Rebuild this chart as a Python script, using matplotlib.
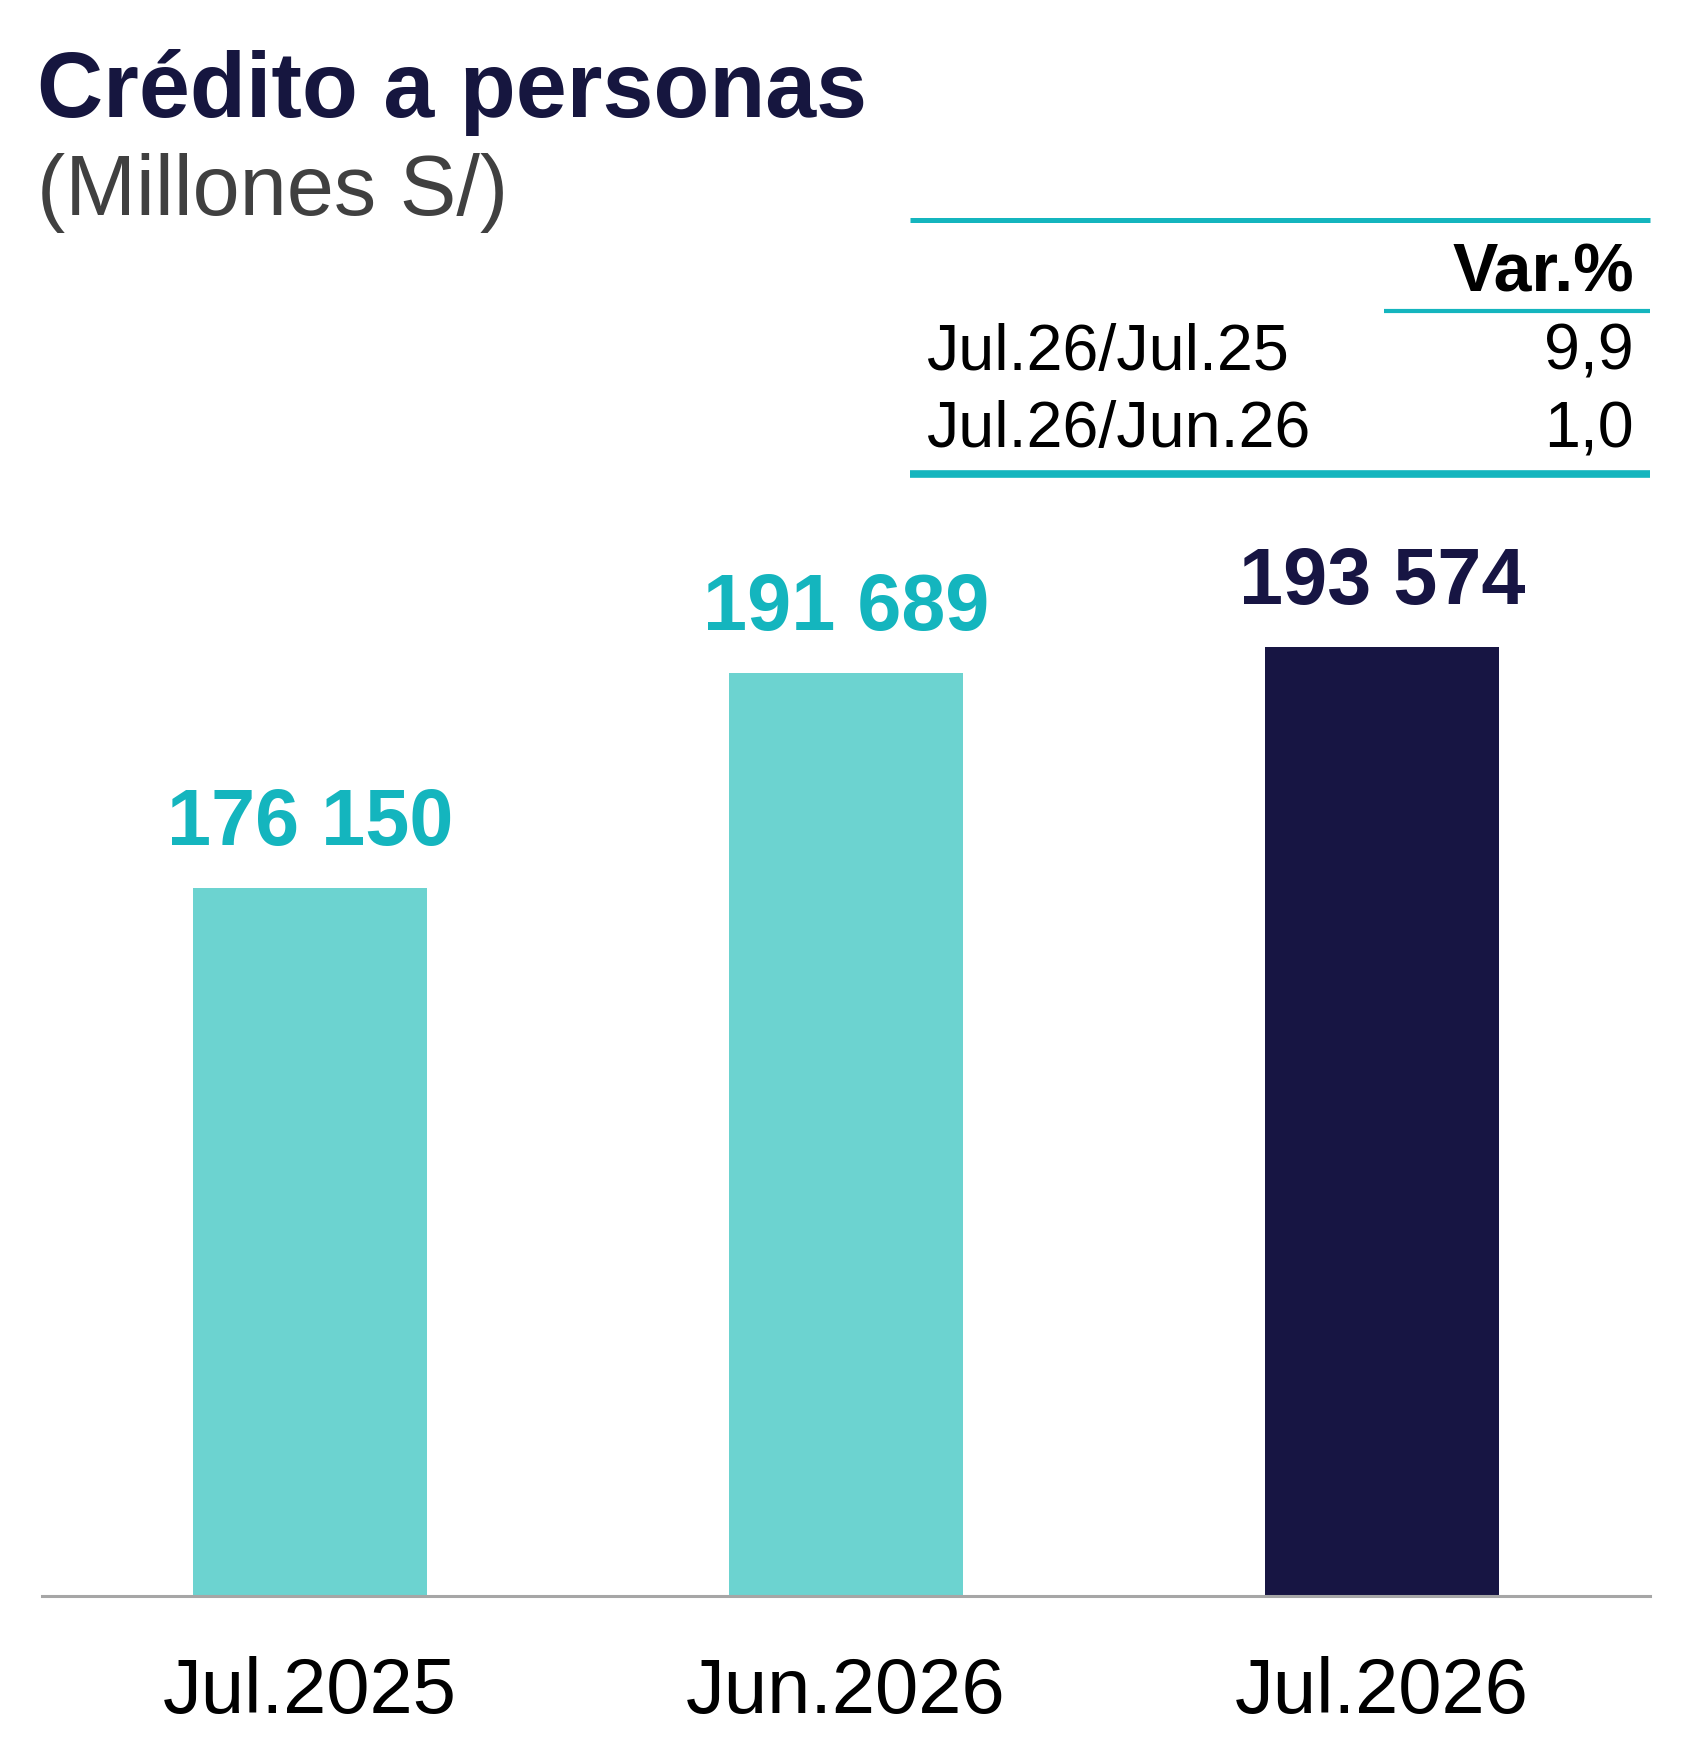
import matplotlib
matplotlib.use("Agg")
import matplotlib.pyplot as plt
from matplotlib.lines import Line2D

# ---- data ----
categories = ["Jul.2025", "Jun.2026", "Jul.2026"]
values = [176150, 191689, 193574]
var_labels = ["Jul.26/Jul.25", "Jul.26/Jun.26"]
var_values = ["9,9", "1,0"]
title = "Crédito a personas"
subtitle = "(Millones S/)"
var_header = "Var.%"

# ---- style ----
W, H = 1694, 1744
FONT = "Liberation Sans"
plt.rcParams["font.family"] = [FONT, "DejaVu Sans"]
NAVY = "#171543"
TITLE_NAVY = "#16163F"
TEAL = "#14B5BE"
LIGHT = "#6CD3D0"
GRAY = "#A6A6A6"

def fx(px):
    return px / W

def fy(py):
    return 1 - py / H

fig = plt.figure(figsize=(W / 100, H / 100), dpi=100)
fig.patch.set_facecolor("white")

ymin, ymax = 125000, 205000
base_px = 1596
top_px = 489
ax = fig.add_axes([fx(42), fy(base_px), fx(1650) - fx(42), (base_px - top_px) / H])

x = list(range(len(categories)))
colors = [LIGHT, LIGHT, NAVY]
label_colors = [TEAL, TEAL, NAVY]
ax.bar(x, [v - ymin for v in values], bottom=ymin, width=0.438, color=colors)
ax.set_xlim(-0.5, len(categories) - 0.5)
ax.set_ylim(ymin, ymax)

for xi, v, c in zip(x, values, label_colors):
    ax.annotate(f"{v:,}".replace(",", " "), (xi, v), xytext=(0, 31),
                textcoords="offset points", ha="center", va="baseline",
                fontsize=57, fontweight="bold", color=c)

for s in ["top", "right", "left"]:
    ax.spines[s].set_visible(False)
ax.spines["bottom"].set_color(GRAY)
ax.spines["bottom"].set_linewidth(2.2)
ax.set_yticks([])
ax.set_xticks(x, categories)
ax.tick_params(axis="x", length=0, pad=43, labelsize=56, labelcolor="black")

# ---- titles ----
fig.text(fx(37), fy(117), title, ha="left", va="baseline", fontsize=66,
         fontweight="bold", color=TITLE_NAVY)
fig.text(fx(37), fy(215), subtitle, ha="left", va="baseline", fontsize=61,
         color="#404040")

# ---- variation table ----
fig.add_artist(Line2D([fx(910), fx(1650)], [fy(220), fy(220)], lw=3.6,
                      color=TEAL, solid_capstyle="butt"))
fig.text(fx(1634), fy(291), var_header, ha="right", va="baseline", fontsize=49,
         fontweight="bold", color="black")
fig.add_artist(Line2D([fx(1384), fx(1650)], [fy(311), fy(311)], lw=3.0,
                      color=TEAL, solid_capstyle="butt"))
row_base = [370, 447]
for lab, val, yb in zip(var_labels, var_values, row_base):
    fig.text(fx(926), fy(yb), lab, ha="left", va="baseline", fontsize=46.5, color="black")
    fig.text(fx(1634), fy(yb), val, ha="right", va="baseline", fontsize=46.5, color="black")
fig.add_artist(Line2D([fx(910), fx(1650)], [fy(474), fy(474)], lw=5.5,
                      color=TEAL, solid_capstyle="butt"))

fig.savefig("out.png", dpi=100, facecolor="white")
